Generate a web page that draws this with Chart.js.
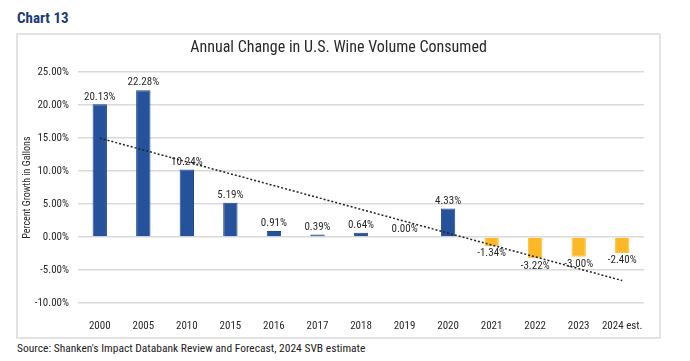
<!DOCTYPE html>
<html>
<head>
<meta charset="utf-8">
<script src="https://cdn.jsdelivr.net/npm/chart.js@4/dist/chart.umd.min.js"></script>
<style>
  body { margin: 0; background: #fff; width: 690px; height: 361px; position: relative; overflow: hidden; }
  .narrow { font-family: "Roboto Condensed", "Liberation Sans", Arial, sans-serif; }
  #heading { position: absolute; left: 17px; top: 9px; font-size: 15px; font-weight: bold; color: #1b3a78; }
  #box { position: absolute; left: 16px; top: 33px; width: 641px; height: 302px; border: 2px solid #e3e3e3; }
  #source { position: absolute; left: 17px; top: 341px; font-size: 11.5px; color: #222; }
</style>
</head>
<body>
<div id="heading" class="narrow">Chart 13</div>
<div id="box"><canvas id="wine-chart" width="641" height="302"></canvas></div>
<div id="source" class="narrow">Source: Shanken's Impact Databank Review and Forecast, 2024 SVB estimate</div>
<script>
const years = ["2000", "2005", "2010", "2015", "2016", "2017", "2018", "2019", "2020", "2021", "2022", "2023", "2024 est."];
const growth = [20.13, 22.28, 10.24, 5.19, 0.91, 0.39, 0.64, 0.00, 4.33, -1.34, -3.22, -3.00, -2.40];
// trend line at its two ends
const trend = [15.0, null, null, null, null, null, null, null, null, null, null, null, -6.6];
const yTicks = { min: -10, max: 25, step: 5 };

const FONT = "'Roboto Condensed', 'Liberation Sans', Arial, sans-serif";
const BLUE = "#26529b";
const GOLD = "#fdb827";

const barColors = years.map((y, i) => (i < 9 ? BLUE : GOLD));
const barBorders = years.map((y, i) => (i < 9 ? "#1e4890" : "#fcc445"));

// draws the percent labels above/below each bar
const valueLabels = {
  id: "valueLabels",
  afterDatasetsDraw(chart) {
    const ctx = chart.ctx;
    const meta = chart.getDatasetMeta(1);
    ctx.save();
    ctx.font = "11px " + FONT;
    ctx.fillStyle = "#2a2a2a";
    ctx.textAlign = "center";
    meta.data.forEach((bar, i) => {
      const v = growth[i];
      const text = v.toFixed(2) + "%";
      if (v >= 0) {
        ctx.textBaseline = "bottom";
        ctx.fillText(text, bar.x, bar.y - 2);
      } else {
        ctx.textBaseline = "top";
        ctx.fillText(text, bar.x, bar.y + 2);
      }
    });
    ctx.restore();
  },
};

new Chart(document.getElementById("wine-chart"), {
  data: {
    labels: years,
    datasets: [
      {
        type: "line",
        data: trend,
        spanGaps: true,
        borderColor: "#222",
        borderWidth: 1.5,
        borderDash: [2, 2],
        pointRadius: 0,
        order: 0,
      },
      {
        type: "bar",
        data: growth,
        backgroundColor: barColors,
        borderColor: barBorders,
        borderWidth: 1,
        barPercentage: 0.33,
        categoryPercentage: 1.0,
        order: 1,
      },
    ],
  },
  options: {
    responsive: false,
    animation: false,
    layout: { padding: 0 },
    scales: {
      x: {
        grid: { display: false },
        border: { display: false },
        ticks: { color: "#2a2a2a", font: { family: FONT, size: 11 }, padding: 9, maxRotation: 0, autoSkip: false },
        afterFit: (scale) => { scale.height = 34; },
      },
      y: {
        min: yTicks.min,
        max: yTicks.max,
        grid: { color: "#d9d9d9", lineWidth: 1.5, drawTicks: false },
        border: { display: false },
        ticks: {
          stepSize: yTicks.step,
          color: "#2a2a2a",
          padding: 9,
          font: { family: FONT, size: 11 },
          callback: (v) => v.toFixed(2) + "%",
        },
        title: {
          display: true,
          text: "Percent Growth in Gallons",
          color: "#2a2a2a",
          font: { family: FONT, size: 10 },
          padding: { top: 3, bottom: 0 },
        },
        afterFit: (scale) => { scale.width = 60; },
      },
      // empty right-hand axis, only to leave a margin right of the bars
      yRight: {
        position: "right",
        grid: { display: false },
        border: { display: false },
        ticks: { display: false },
        afterFit: (scale) => { scale.width = 15; },
      },
    },
    plugins: {
      legend: { display: false },
      tooltip: { enabled: false },
      title: {
        display: true,
        text: "Annual Change in U.S. Wine Volume Consumed",
        color: "#2a2a2a",
        font: { family: FONT, size: 16, weight: "normal" },
        padding: { top: 3, bottom: 15 },
      },
    },
  },
  plugins: [valueLabels],
});
</script>
</body>
</html>
